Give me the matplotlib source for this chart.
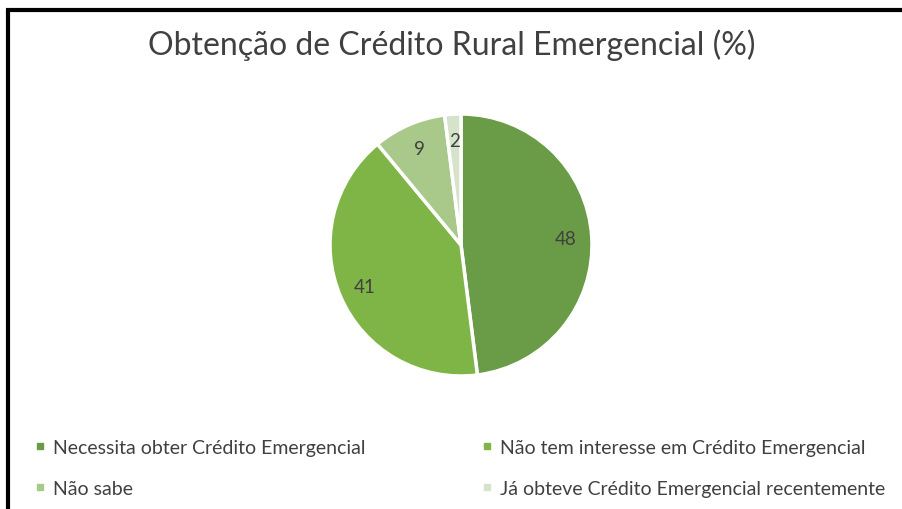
import matplotlib
matplotlib.use("Agg")
import matplotlib.pyplot as plt
from matplotlib.lines import Line2D

categories = ["Necessita obter Crédito Emergencial",
              "Não tem interesse em Crédito Emergencial",
              "Não sabe",
              "Já obteve Crédito Emergencial recentemente"]
values = [48, 41, 9, 2]
colors = ["#6a9c47", "#7fb546", "#a9c98b", "#d6e3cb"]
title = "Obtenção de Crédito Rural Emergencial (%)"

plt.rcParams['font.family'] = ['Lato', 'DejaVu Sans']

W, H = 903, 510
fig = plt.figure(figsize=(W / 100, H / 100), dpi=100)
fig.patch.set_facecolor("white")

cx, cy, r = 461, 246, 131
ax = fig.add_axes([(cx - r) / W, (H - cy - r) / H, 2 * r / W, 2 * r / H])
wedges, texts, autotexts = ax.pie(values, colors=colors, startangle=90, counterclock=False,
                                  autopct=lambda p: f"{p:.0f}", pctdistance=0.8,
                                  wedgeprops=dict(edgecolor="white", linewidth=2.5))
for t in autotexts:
    t.set_color("#404040")
    t.set_fontsize(13.5)
ax.set_aspect("equal")
ax.set_xlim(-1, 1)
ax.set_ylim(-1, 1)

fig.text(452 / W, 1 - 45 / H, title, ha="center", va="center", fontsize=23, color="#404040")

# row-wise legend order (matplotlib fills columns first)
order = [0, 2, 1, 3]
handles = [Line2D([], [], linestyle="none", marker="s", markersize=5, color=colors[i]) for i in order]
labels = [categories[i] for i in order]
fig.legend(handles, labels, ncol=2, loc="lower left",
           bbox_to_anchor=(34 / W, 12 / H),
           frameon=False, fontsize=14, handlelength=0.6, handletextpad=0.4,
           columnspacing=5.9, labelspacing=1.25, borderaxespad=0, borderpad=0,
           labelcolor="#404040")

# frame lines (left and top)
fig.add_artist(Line2D([7.5 / W, 7.5 / W], [0, 1 - 10 / H], color="black", linewidth=3,
                      transform=fig.transFigure, solid_capstyle="butt"))
fig.add_artist(Line2D([6 / W, 1], [1 - 10.5 / H, 1 - 10.5 / H], color="black", linewidth=3,
                      transform=fig.transFigure, solid_capstyle="butt"))

fig.savefig("out.png", dpi=100, facecolor="white")
